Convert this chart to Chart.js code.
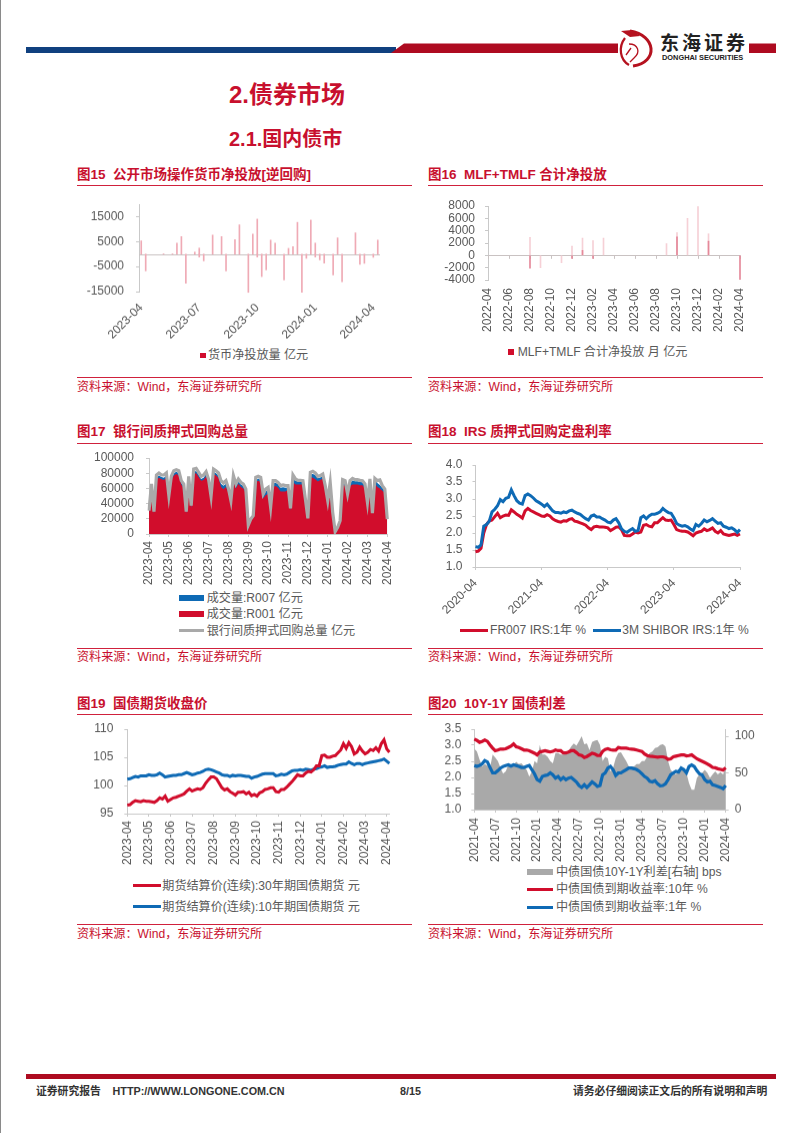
<!DOCTYPE html>
<html><head><meta charset="utf-8">
<script src="https://cdn.jsdelivr.net/npm/chart.js@4/dist/chart.umd.min.js"></script>
<style>
html,body{margin:0;padding:0;background:#fff}
#page{position:relative;width:802px;height:1133px;overflow:hidden;font-family:"Liberation Sans","Noto Sans CJK SC",sans-serif}
#page canvas{position:absolute}
.t{position:absolute;white-space:pre}
.b{position:absolute}
</style></head><body><div id="page"></div>
<script>
// ---------- chart 15 ----------
const ticks15 = ['2023-04','2023-07','2023-10','2024-01','2024-04'];
const netWeekly = [5300,-6700,0,0,0,100,0,100,4400,7000,-11600,0,800,2400,-2700,0,7600,0,7000,-6700,0,5800,11700,0,-15300,8000,14000,-9000,-6300,5600,4400,0,-10300,2300,3000,12700,-15300,-1700,13600,4400,-2300,-3600,0,-8300,6500,-11000,0,0,8500,-4100,-3700,0,-1300,5600];
const netWeeklyExtra = [0,0,0,0,0,0,0,0,0,0,0,0,0,-1200,0,0,0,0,0,0,0,0,0,0,0,0,-1200,0,0,0,0,0,0,0,0,0,0,0,0,-1200,0,0,0,0,0,0,0,0,0,0,0,0,0,0];
// ---------- chart 16 ----------
const ticks16 = ['2022-04','2022-06','2022-08','2022-10','2022-12','2023-02','2023-04','2023-06','2023-08','2023-10','2023-12','2024-02','2024-04'];
const mlfMain = [0,0,0,0,-2100,0,0,0,-500,800,-500,0,0,0,0,0,0,0,3000,0,0,2300,0,0,-3900];
const mlfEarly = [0,0,0,0,2900,-2000,0,-1200,1500,2800,2400,2800,0,0,0,0,0,1900,3700,6000,7900,3500,0,0,0];
// ---------- chart 17 ----------
const ticks17 = ['2023-04','2023-05','2023-06','2023-07','2023-08','2023-09','2023-10','2023-11','2023-12','2024-01','2024-02','2024-03','2024-04'];
const repoTotal = [30700,65800,29400,77600,80300,77600,77600,80300,
50400,76000,83300,84600,83300,70200,65800,29400,
75900,37300,85500,86400,81100,75900,77600,82000,
72000,49600,85500,83300,80300,70200,67100,70200,
60000,43900,76800,65800,72400,68000,65800,59200,
11800,19700,24100,74600,75900,74600,52600,59200,
61400,35100,70200,70200,68000,63600,64500,63600,
63600,33800,77600,72400,70600,70600,70200,46100,
20600,81100,82500,80300,75900,76800,78900,63600,
43900,68000,28500,3100,8800,17500,71500,70200,
52600,70200,73200,71500,71500,70600,70200,65800,
41700,72400,27600,73200,70200,71100,63600,59200,
19700];
const r001 = [28000,60000,27000,71000,74000,72000,71000,74000,
47000,70000,77000,79000,77000,65000,60000,27000,
70000,34000,79000,80000,75000,70000,71000,76000,
66000,46000,79000,77000,74000,62000,59000,62000,
54000,40000,70000,60000,66000,62000,60000,54000,
10000,18000,22000,68000,70000,68000,47000,51000,
53000,33000,62000,63000,61000,56000,56000,56000,
58000,31000,68000,65000,65000,65000,65000,43000,
19000,75000,74000,72000,69000,71000,73000,58000,
41000,62000,26000,2000,7000,16000,65000,63000,
50000,63000,65000,65000,65000,64000,64000,60000,
39000,65000,26000,66000,62000,60000,57000,54000,
18000];
const r007 = [1000,2500,1000,3000,3000,3000,3000,3000,
1500,2500,3000,3000,3000,2500,2500,1000,
3000,1500,3000,3000,3000,2500,3000,3000,
2000,1500,3000,3000,3000,4000,4500,4000,
2500,1500,3000,3000,3000,3000,3000,2500,
500,500,700,3000,3000,3000,3000,5000,
5500,1000,5000,4500,4500,5000,5500,5000,
3000,1500,5500,5000,4500,4500,4500,2000,
800,3500,5000,5500,4500,3500,3000,3000,
1500,3000,1000,300,500,800,3500,4500,
1500,4500,5500,4500,4500,4500,4000,3000,
1500,5000,1000,4500,5000,4500,4000,3000,
1000];
// ---------- chart 18 ----------
const ticks18 = ['2020-04','2021-04','2022-04','2023-04','2024-04'];
const fr007 = [1.45,1.47,1.55,2.0,2.25,2.35,2.38,2.48,2.58,2.45,2.5,2.53,2.52,2.68,2.62,2.55,2.5,2.44,2.65,2.72,2.66,2.62,2.58,2.54,
2.5,2.49,2.54,2.5,2.42,2.37,2.34,2.32,2.36,2.35,2.4,2.42,2.35,2.33,2.3,2.27,2.23,2.15,2.1,2.18,2.2,2.18,2.18,2.17,
2.15,2.07,2.12,2.17,2.18,2.1,1.93,1.92,1.92,1.97,2.03,2.0,2.03,2.23,2.25,2.2,2.18,2.3,2.3,2.38,2.45,2.38,2.37,2.38,
2.25,2.1,2.07,2.05,2.05,2.03,1.98,1.92,2.0,2.03,2.05,2.12,2.07,2.1,2.15,2.05,2.0,2.07,1.97,1.95,1.93,1.95,1.97,1.93,1.97];
const shibor3m = [1.6,1.58,1.65,2.2,2.25,2.35,2.62,2.7,2.8,2.98,2.92,3.02,3.05,3.27,3.1,2.95,2.88,2.85,3.1,3.15,3.1,3.03,2.95,2.9,
2.85,2.78,2.85,2.75,2.65,2.6,2.6,2.58,2.62,2.6,2.65,2.67,2.62,2.58,2.55,2.48,2.42,2.38,2.5,2.53,2.47,2.47,2.42,2.38,
2.32,2.3,2.38,2.42,2.3,2.12,2.05,2.02,2.08,2.13,2.05,2.07,2.45,2.5,2.42,2.5,2.55,2.55,2.58,2.62,2.72,2.65,2.6,2.58,
2.45,2.28,2.23,2.2,2.22,2.18,2.12,2.07,2.25,2.2,2.28,2.38,2.33,2.37,2.42,2.35,2.28,2.3,2.2,2.17,2.13,2.15,2.1,2.02,2.1];
// ---------- chart 19 ----------
const ticks19 = ticks17;
const fut30y = [96.5,96.6,97,97.3,97.2,97.1,97.3,97.2,
97.2,97.1,97.0,97.3,97.8,97.6,98.1,97.2,
97.5,97.8,97.9,98.1,98.3,98.5,99.0,99.4,
99.0,99.2,99.4,99.3,99.6,100.4,101,101.5,
101.5,101.2,100.4,99.6,99.2,99.4,98.9,98.6,
98.3,98.8,98.8,98.9,98.5,98.8,98.2,98.4,
98.1,98.7,98.9,99.3,99.4,99.6,99.6,98.9,
98.8,99.3,99.3,99.7,100.2,100.7,101.3,101.9,
101.7,101.7,102.2,102.5,102.4,102.8,103.5,103.5,
105.3,105.4,105,105,105.2,105.3,105.8,106.3,
107.4,106.6,107.6,106.9,105.6,105.9,106.8,106.1,
105.6,105.9,106.4,106.2,106.7,106.1,107.4,108.1,
106.5,105.9];
const fut10y = [101.1,101.2,101.4,101.6,101.5,101.7,101.7,101.7,
101.9,101.8,101.8,101.9,102.2,101.9,101.5,101.6,
101.7,101.8,101.8,101.9,101.9,102.1,102.3,102.1,
101.9,102.0,102.2,102.3,102.5,102.8,102.9,102.8,
102.6,102.4,102.2,101.9,101.8,101.8,101.6,101.8,
101.7,101.8,101.8,101.7,101.6,101.6,101.3,101.5,
101.6,101.8,102.0,102.1,102.1,102.1,102.1,101.7,
101.8,102.0,101.9,102.0,102.3,102.6,102.7,102.7,
102.8,102.7,102.9,102.8,102.7,102.9,103.0,103.2,
103.3,103.5,103.2,103.3,103.3,103.4,103.6,103.7,
103.8,103.8,104.2,103.9,103.7,103.9,103.9,103.7,
103.9,104.0,104.1,104.2,104.3,104.4,104.5,104.7,
104.3,103.9];
// ---------- chart 20 ----------
const ticks20 = ['2021-04','2021-07','2021-10','2022-01','2022-04','2022-07','2022-10','2023-01','2023-04','2023-07','2023-10','2024-01','2024-04'];
const cgb10y = [3.19,3.15,3.09,3.12,3.16,3.12,3.01,2.91,
2.83,2.85,2.88,2.88,2.89,2.93,2.97,3.04,
2.95,2.93,2.89,2.85,2.85,2.83,2.79,2.75,
2.70,2.79,2.81,2.83,2.81,2.79,2.81,2.85,
2.83,2.83,2.76,2.76,2.79,2.83,2.83,2.77,
2.70,2.68,2.62,2.65,2.70,2.75,2.73,2.68,
2.68,2.81,2.87,2.89,2.86,2.85,2.85,2.93,
2.91,2.91,2.91,2.89,2.88,2.87,2.85,2.83,
2.81,2.73,2.68,2.66,2.65,2.64,2.63,2.64,
2.64,2.62,2.56,2.58,2.64,2.66,2.68,2.70,
2.70,2.67,2.68,2.70,2.64,2.58,2.54,2.50,
2.46,2.42,2.37,2.31,2.30,2.27,2.25,2.23,2.30];
const cgb1y = [2.37,2.34,2.37,2.42,2.52,2.48,2.31,2.14,
2.14,2.21,2.29,2.34,2.37,2.39,2.35,2.39,
2.37,2.34,2.31,2.31,2.34,2.37,2.24,2.11,
1.93,1.88,2.03,2.06,2.08,2.14,2.08,1.98,
2.03,1.93,2.00,1.93,1.98,2.00,1.93,1.86,
1.75,1.69,1.77,1.69,1.77,1.86,1.80,1.72,
1.75,2.08,2.14,2.29,2.34,2.24,2.06,2.14,
2.14,2.19,2.24,2.29,2.29,2.27,2.24,2.19,
2.11,2.03,1.98,1.88,1.86,1.90,1.80,1.74,
1.75,1.80,1.93,2.08,2.14,2.19,2.17,2.29,
2.24,2.14,2.34,2.39,2.34,2.21,2.11,2.08,
1.93,1.86,1.88,1.77,1.75,1.72,1.69,1.65,1.75];
const spread = [83,79,68,59,62,60,57,75,
71,66,57,49,52,61,60,61,
65,62,63,59,54,45,52,66,
63,88,75,75,72,66,63,77,
77,75,75,77,80,86,90,87,
93,100,89,90,81,92,94,95,
88,66,72,70,52,57,70,77,
78,72,66,59,59,59,62,62,
66,66,72,77,79,84,85,88,
89,86,66,54,50,48,54,54,
54,50,36,27,27,43,48,50,
54,50,43,48,52,48,51,48,57];

// ---------- palette & helpers ----------
const RED='#d10d2c', BLUE='#0e6ab5', GREY='#a9a9a9', TXT='#595959', TITLE='#c8102e', AXIS='#c9c9c9';
const FONT='"Liberation Sans","Noto Sans CJK SC",sans-serif';
Chart.defaults.font.family=FONT; Chart.defaults.font.size=12; Chart.defaults.color=TXT;
const page=document.getElementById('page');
function text(x,yc,s,o={}){const e=document.createElement('span');e.className='t';e.textContent=s;
  const fs=o.size||12.1;e.style.cssText+=`left:${x}px;top:${yc-fs}px;line-height:${2*fs}px;font-size:${fs}px;color:${o.color||TXT};font-weight:${o.bold?700:400};`+(o.css||'');page.appendChild(e);return e;}
function rect(x,y,w,h,c){const e=document.createElement('div');e.className='b';e.style.cssText=`left:${x}px;top:${y}px;width:${w}px;height:${h}px;background:${c}`;page.appendChild(e);return e;}
function expand(ticks,step,n){const a=[];for(let i=0;i<n;i++)a.push(i%step===0&&ticks[i/step]?ticks[i/step]:'');return a;}

// header
rect(0,0,1,1133,'#8a8a8a');
rect(25.5,47,370,6,'#10407f');
const hdr=document.createElementNS('http://www.w3.org/2000/svg','svg');
hdr.setAttribute('width','802');hdr.setAttribute('height','80');hdr.style.cssText='position:absolute;left:0;top:0';
hdr.innerHTML=`<polygon points="391,53 404,43.5 618,43.5 618,53" fill="#ae0b20"/><rect x="749" y="43.5" width="27" height="9.5" fill="#ae0b20"/>
<rect x="618" y="28" width="131" height="42" fill="#fff"/>
<path d="M630 31 C 656 35 659 62 633 66" fill="none" stroke="#b5121f" stroke-width="3"/>
<path d="M625 38 C 618 47 620 60 629 65" fill="none" stroke="#b5121f" stroke-width="2.2"/>
<path d="M621 31 L632 30 L640 36 L630 37 Z" fill="#b5121f"/>
<path d="M629 44 C 638 44 641 52 634 58 M631 48 L626 55 M634 58 L630 62" fill="none" stroke="#b5121f" stroke-width="1.3"/>`;
page.appendChild(hdr);
text(660,44,'东海证券',{size:19,bold:true,color:'#222',css:'letter-spacing:3px;'});
text(662,58.5,'DONGHAI SECURITIES',{size:7.4,bold:true,color:'#222'});
text(229,95,'2.债券市场',{size:24,bold:true,color:TITLE});
text(229,139,'2.1.国内债市',{size:20,bold:true,color:TITLE});
// footer
rect(25.5,1073.5,750.5,5,'#ae0b20');
text(36,1091.7,'证券研究报告',{size:10.8,bold:true,color:'#333'});
text(112.5,1091.7,'HTTP://WWW.LONGONE.COM.CN',{size:10.8,bold:true,color:'#333'});
text(400,1091.7,'8/15',{size:10.8,bold:true,color:'#333'});
text(573,1091.7,'请务必仔细阅读正文后的所有说明和声明',{size:10.8,bold:true,color:'#333'});

// panel frame
function panel(x,title,yT,yR,yB,yS){
  text(x,yT,title,{size:13.5,bold:true,color:TITLE});
  rect(x,yR,335,1,'#d0213c');
  rect(x,yB,335,1,'#d0213c');
  text(x,yS,'资料来源：Wind，东海证券研究所',{size:12.12,color:TITLE});
}
panel(77,'图15  公开市场操作货币净投放[逆回购]',174.5,185,376.5,387);
panel(428,'图16  MLF+TMLF 合计净投放',174.5,185,376.5,387);
panel(77,'图17  银行间质押式回购总量',431.7,442.5,648,657);
panel(428,'图18  IRS 质押式回购定盘利率',431.7,442.5,648,657);
panel(77,'图19  国债期货收盘价',703,714,924,934);
panel(428,'图20  10Y-1Y 国债利差',703,714,924,934);

// legend entries
function legLine(x1,x2,y,c,h){rect(x1,y-h/2,x2-x1,h,c);}
rect(200,352.5,5.5,5.5,RED); text(208,355,'货币净投放量 亿元');
rect(508,349,6,5.5,RED); text(517.7,351.7,'MLF+TMLF 合计净投放 月 亿元');
legLine(178.7,204.3,597.7,BLUE,6); text(206.7,597.7,'成交量:R007 亿元');
legLine(178.7,204.3,614,RED,6); text(206.7,614,'成交量:R001 亿元');
legLine(178.7,204.3,630.7,GREY,3); text(206.7,630.7,'银行间质押式回购总量 亿元');
legLine(460,487.7,630,RED,3); text(490,630,'FR007 IRS:1年 %');
legLine(593.3,621,630,BLUE,3); text(622.3,630,'3M SHIBOR IRS:1年 %');
legLine(133.3,160.7,885.7,RED,3); text(162.3,885.7,'期货结算价(连续):30年期国债期货 元');
legLine(133.3,160.7,906.7,BLUE,3); text(162.3,906.7,'期货结算价(连续):10年期国债期货 元');
legLine(527.3,552.7,871.7,GREY,6); text(556,871.7,'中债国债10Y-1Y利差[右轴] bps');
legLine(527.3,552.7,889.3,RED,3); text(556,889.3,'中债国债到期收益率:10年 %');
legLine(527.3,552.7,907.3,BLUE,3); text(556,907.3,'中债国债到期收益率:1年 %');

// zero-line plugin: draws the category axis at y=0 for the two net-issue charts
const zeroAxis={id:'zeroAxis',beforeDatasetsDraw(c,a,o){if(!o.on)return;const g=c.ctx,y=c.scales.y.getPixelForValue(0),x=c.scales.x;
  g.save();g.strokeStyle='#c9c2c2';g.lineWidth=1;g.beginPath();g.moveTo(c.chartArea.left,Math.round(y)+.5);g.lineTo(c.chartArea.right,Math.round(y)+.5);
  if(o.ticks)x.ticks.forEach((t,i)=>{if(t.label){const p=Math.round(x.getPixelForTick(i))+.5;g.moveTo(p,y);g.lineTo(p,y+3.5);}});
  g.stroke();g.restore();}};
Chart.register(zeroAxis);

function make(cfg){
  const L=cfg.col===0?70:420, W=350, T=cfg.plot.top-12, B=cfg.plot.bottom+(cfg.extra||62);
  const cv=document.createElement('canvas');cv.width=W;cv.height=B-T;cv.style.cssText=`left:${L}px;top:${T}px;width:${W}px;height:${B-T}px`;page.appendChild(cv);
  const h=B-cfg.plot.bottom, yW=cfg.plot.left-L, rW=L+W-cfg.plot.right;
  const fixW=w=>s=>{s.width=w;s.paddingTop=0;s.paddingBottom=0;s.paddingLeft=0;s.paddingRight=0;};
  const xs={type:'category',offset:!!cfg.offset,
    grid:{drawOnChartArea:false,drawTicks:!cfg.noX,tickLength:3,tickWidth:1,tickColor:c=>(c.tick&&c.tick.label)?AXIS:'rgba(0,0,0,0)'},
    border:{display:!cfg.noX,color:AXIS},
    ticks:{autoSkip:false,minRotation:cfg.rot,maxRotation:cfg.rot,padding:cfg.xPad,font:{size:12},color:TXT},
    afterFit(s){s.height=h;s.paddingLeft=0;s.paddingRight=0;s.paddingTop=0;s.paddingBottom=0;}};
  const ys=Object.assign({position:'left',min:cfg.y.min,max:cfg.y.max,stacked:!!cfg.stacked,
    grid:{drawOnChartArea:false,tickLength:3,color:AXIS,tickColor:AXIS},border:{color:AXIS},
    ticks:{padding:cfg.y.pad,font:{size:12},color:TXT,stepSize:cfg.y.step,callback:cfg.y.fmt||(v=>v),autoSkip:false},
    afterFit:fixW(yW)},cfg.y.list?{afterBuildTicks(s){s.ticks=cfg.y.list.map(v=>({value:v}));}}:{});
  const scales={x:xs,y:ys};
  if(cfg.y1){scales.y1={position:'right',min:cfg.y1.min,max:cfg.y1.max,
    grid:{drawOnChartArea:false,tickLength:3,color:AXIS,tickColor:AXIS},border:{color:AXIS},
    ticks:{padding:cfg.y1.pad,font:{size:12},color:TXT},
    afterBuildTicks(s){s.ticks=cfg.y1.list.map(v=>({value:v}));},afterFit:fixW(rW)};}
  new Chart(cv.getContext('2d'),{type:cfg.type,data:{labels:cfg.labels,datasets:cfg.datasets},
    options:{responsive:false,animation:false,devicePixelRatio:1,
      layout:{padding:{left:0,top:cfg.plot.top-T,right:cfg.y1?0:rW,bottom:0}},
      plugins:{legend:{display:false},tooltip:{enabled:false},zeroAxis:{on:!!cfg.noX,ticks:cfg.xTicks}},
      elements:{point:{radius:0},line:{tension:0}},scales}});
}
const lineDs=(label,data,color,width,order,extra)=>Object.assign({label,data,borderColor:color,backgroundColor:color,borderWidth:width,pointRadius:0,order,fill:false},extra||{});
const barDs=(label,data,color)=>({label,data:data.map(v=>v===0?null:v),backgroundColor:color,barThickness:1,grouped:false,clip:false});

make({col:0,type:'bar',plot:{left:139,right:380,top:204,bottom:291.7},offset:true,noX:true,rot:45,xPad:9,extra:78,
  labels:expand(ticks15,13,netWeekly.length),
  y:{min:-15000,max:20000,list:[-15000,-5000,5000,15000],pad:12},
  datasets:[barDs('货币净投放量 亿元',netWeekly,'#efaab5'),barDs('货币净投放量 亿元',netWeeklyExtra,'#efaab5')]});
make({col:1,type:'bar',plot:{left:488,right:740,top:206,bottom:280},noX:true,xTicks:true,rot:90,xPad:8,extra:62,
  labels:expand(ticks16,2,mlfMain.length),
  y:{min:-4000,max:8000,step:2000,pad:10},
  datasets:[barDs('MLF+TMLF 合计净投放 月 亿元',mlfMain,'#e5899a'),barDs('MLF+TMLF 合计净投放 月 亿元',mlfEarly,'#f6d0d6')]});
make({col:0,type:'line',plot:{left:149,right:387.3,top:457.7,bottom:533.7},rot:90,xPad:4,stacked:true,extra:60,
  labels:expand(ticks17,8,repoTotal.length),
  y:{min:0,max:100000,step:20000,pad:12},
  datasets:[
    lineDs('成交量:R001 亿元',r001,RED,0,2,{fill:'origin',stack:'a'}),
    lineDs('成交量:R007 亿元',r007,BLUE,0,3,{fill:'origin',stack:'a'}),
    lineDs('银行间质押式回购总量 亿元',repoTotal,GREY,3.2,1,{stack:'b'})]});
make({col:1,type:'line',plot:{left:475.5,right:740,top:464.7,bottom:567},rot:45,xPad:6,extra:60,
  labels:expand(ticks18,24,fr007.length),
  y:{min:1,max:4,step:.5,pad:10,fmt:v=>v.toFixed(1)},
  datasets:[lineDs('3M SHIBOR IRS:1年 %',shibor3m,BLUE,3,1),lineDs('FR007 IRS:1年 %',fr007,RED,3,2)]});
make({col:0,type:'line',plot:{left:127.3,right:389.4,top:729.3,bottom:813.7},rot:90,xPad:4,extra:60,
  labels:expand(ticks19,8,fut30y.length),
  y:{min:95,max:110,step:5,pad:11},
  datasets:[lineDs('期货结算价(连续):30年期国债期货 元',fut30y,RED,3,1),lineDs('期货结算价(连续):10年期国债期货 元',fut10y,BLUE,3,2)]});
make({col:1,type:'line',plot:{left:474.3,right:725.7,top:729.3,bottom:810},rot:90,xPad:5,extra:60,
  labels:expand(ticks20,8,cgb10y.length),
  y:{min:1,max:3.5,step:.5,pad:10,fmt:v=>v.toFixed(1)},
  y1:{min:0,max:109.6,list:[0,50,100],pad:6},
  datasets:[
    lineDs('中债国债到期收益率:10年 %',cgb10y,RED,3.2,1,{yAxisID:'y'}),
    lineDs('中债国债到期收益率:1年 %',cgb1y,BLUE,3.2,2,{yAxisID:'y'}),
    lineDs('中债国债10Y-1Y利差[右轴] bps',spread,GREY,0,3,{yAxisID:'y1',fill:'origin'})]});
</script></body></html>
